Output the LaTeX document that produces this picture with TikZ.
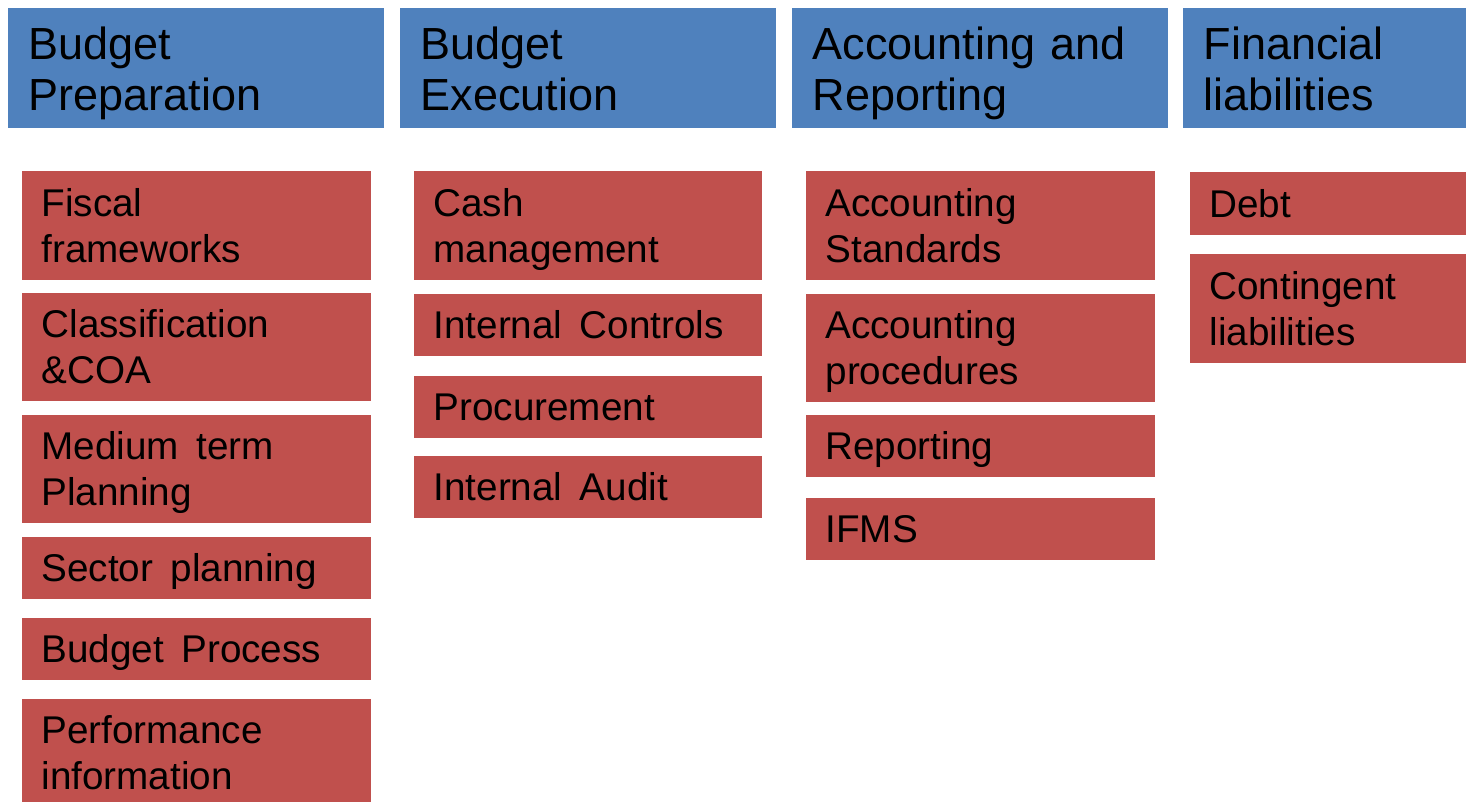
\documentclass[tikz,border=0pt]{standalone}
\usepackage{fontspec}
\setmainfont{Liberation Sans}
\definecolor{headblue}{RGB}{79,129,189}
\definecolor{itemred}{RGB}{192,80,77}
\newcommand\topstrut{\rule{0pt}{1em}}
\newcommand\botstrut{\rule[-0.284em]{0pt}{0.284em}}
\newcommand\widespace{\spaceskip=0.45em\relax}
\tikzset{every picture/.style={line width=0.75pt}}
\tikzset{
  headbox/.style={fill=headblue, anchor=north west, inner xsep=15.75pt, inner ysep=0pt, minimum height=90pt, text width=#1, align=left, font=\fontsize{33.75}{38.25}\selectfont, execute at begin node=\topstrut, execute at end node=\botstrut},
  itembox/.style={fill=itemred, anchor=north west, inner xsep=15pt, inner ysep=0pt, text width=#1, align=left, font=\fontsize{29}{34}\selectfont, execute at begin node=\widespace\topstrut, execute at end node=\botstrut},
  tallbox/.style={minimum height=81pt},
  shortbox/.style={minimum height=47pt}
}
\begin{document}
\begin{tikzpicture}[x=0.75pt,y=0.75pt,yscale=-1,xscale=1]
            \useasboundingbox (0,0) rectangle (1466,802);
            \clip (0,0) rectangle (1466,802);

            %Header row
            \node [headbox=250.5pt] (bp) at (7,8) {Budget\\Preparation};
            \node [headbox=250.5pt] (be) at (399,8) {Budget\\Execution};
            \node [headbox=250.5pt] (ar) at (791,8) {Accounting and\\Reporting};
            \node [headbox=199.5pt] (fl) at (1182,8) {Financial\\liabilities};

            %Budget Preparation items
            \node [itembox=231.75pt, tallbox] (bp1) at (21,171) {Fiscal\\frameworks};
            \node [itembox=231.75pt, tallbox] (bp2) at (21,292) {Classification\\\&COA};
            \node [itembox=231.75pt, tallbox] (bp3) at (21,414) {Medium term\\Planning};
            \node [itembox=231.75pt, shortbox] (bp4) at (21,536) {Sector planning};
            \node [itembox=231.75pt, shortbox] (bp5) at (21,617) {Budget Process};
            \node [itembox=231.75pt, tallbox] (bp6) at (21,698) {Performance\\information};

            %Budget Execution items
            \node [itembox=231pt, tallbox] (be1) at (413,171) {Cash\\management};
            \node [itembox=231pt, shortbox] (be2) at (413,293) {Internal Controls};
            \node [itembox=231pt, shortbox] (be3) at (413,375) {Procurement};
            \node [itembox=231pt, shortbox] (be4) at (413,455) {Internal Audit};

            %Accounting and Reporting items
            \node [itembox=231.75pt, tallbox] (ar1) at (805,171) {Accounting\\Standards};
            \node [itembox=231.75pt, tallbox] (ar2) at (805,293) {Accounting\\procedures};
            \node [itembox=231.75pt, shortbox] (ar3) at (805,414) {Reporting};
            \node [itembox=231.75pt, shortbox] (ar4) at (805,497) {IFMS};

            %Financial liabilities items
            \node [itembox=195.75pt, shortbox] (fl1) at (1189,172) {Debt};
            \node [itembox=195.75pt, tallbox] (fl2) at (1189,254) {Contingent\\liabilities};

        \end{tikzpicture}
\end{document}
